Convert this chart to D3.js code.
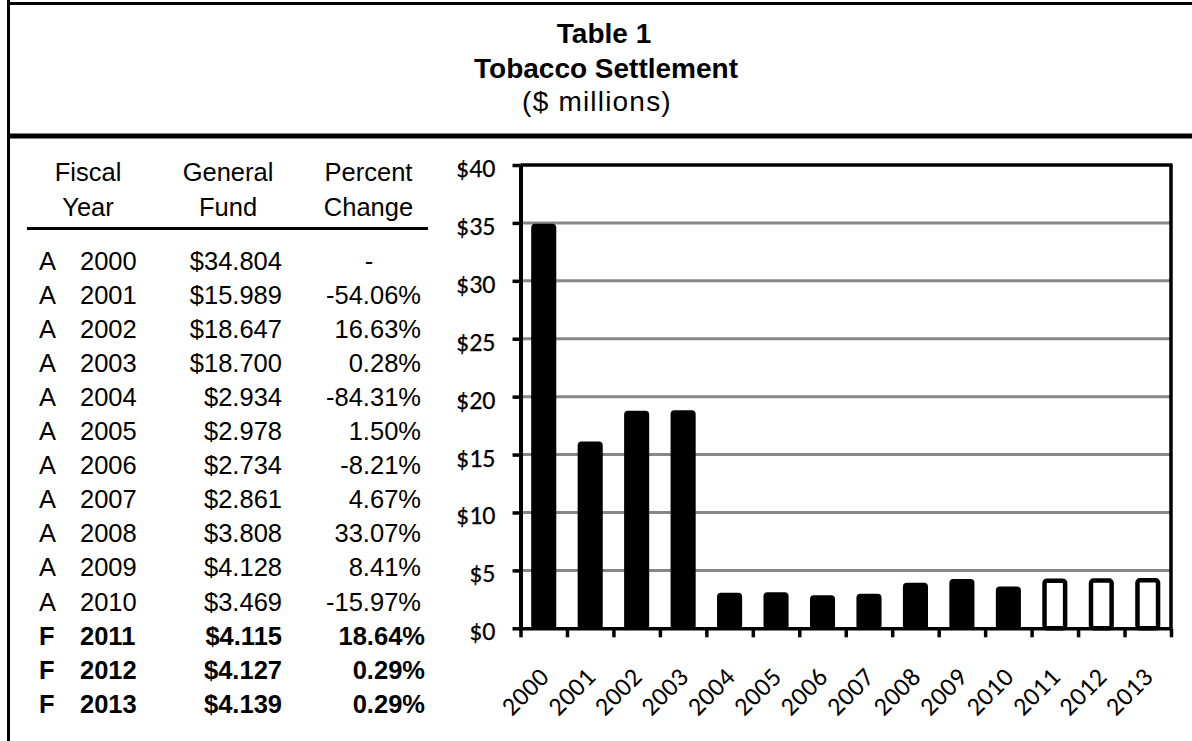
<!DOCTYPE html>
<html>
<head>
<meta charset="utf-8">
<script src="https://cdn.jsdelivr.net/npm/d3@7/dist/d3.min.js"></script>
<style>
  html, body { margin: 0; padding: 0; background: #fff; }
  svg { display: block; }
</style>
</head>
<body>
<svg id="chart" width="1192" height="741"></svg>
<script>
// ---------------- DATA ----------------
const titleLines = ["Table 1", "Tobacco Settlement", "($ millions)"];
const headerTop = ["Fiscal", "General", "Percent"];
const headerBottom = ["Year", "Fund", "Change"];
const fiscalType = ["A","A","A","A","A","A","A","A","A","A","A","F","F","F"];
const years = ["2000","2001","2002","2003","2004","2005","2006","2007","2008","2009","2010","2011","2012","2013"];
const generalFund = [34.804, 15.989, 18.647, 18.700, 2.934, 2.978, 2.734, 2.861, 3.808, 4.128, 3.469, 4.115, 4.127, 4.139];
const percentChange = ["-", "-54.06%", "16.63%", "0.28%", "-84.31%", "1.50%", "-8.21%", "4.67%", "33.07%", "8.41%", "-15.97%", "18.64%", "0.29%", "0.29%"];
const yTicks = [0, 5, 10, 15, 20, 25, 30, 35, 40];

// ---------------- SETUP ----------------
const svg = d3.select("#chart");
const W = 1192, H = 741;
const tableFont = "'Liberation Sans', Arial, sans-serif";
const axisFont = "Carlito, Calibri, Lato, 'Open Sans', sans-serif";
const axisSize = 26;

// Frame
svg.append("line").attr("x1", 8.5).attr("x2", 8.5).attr("y1", 0).attr("y2", H)
  .attr("stroke", "#000").attr("stroke-width", 3);
svg.append("line").attr("x1", 7).attr("x2", W).attr("y1", 3.5).attr("y2", 3.5)
  .attr("stroke", "#000").attr("stroke-width", 3);
svg.append("line").attr("x1", 7).attr("x2", W).attr("y1", 136).attr("y2", 136)
  .attr("stroke", "#000").attr("stroke-width", 5);

// Title
const titleCfg = [
  {x: 604, y: 43, w: "bold", size: 28, ls: 0},
  {x: 606, y: 78, w: "bold", size: 28, ls: 0},
  {x: 597, y: 111, w: "normal", size: 28, ls: 1.2}
];
svg.selectAll("text.title").data(titleLines).join("text")
  .attr("class", "title")
  .attr("x", (d, i) => titleCfg[i].x)
  .attr("y", (d, i) => titleCfg[i].y)
  .attr("text-anchor", "middle")
  .attr("font-family", tableFont)
  .attr("font-weight", (d, i) => titleCfg[i].w)
  .attr("font-size", (d, i) => titleCfg[i].size)
  .attr("letter-spacing", (d, i) => titleCfg[i].ls)
  .text(d => d);

// ---------------- TABLE ----------------
const headerX = [88, 228, 368.5];
const tFont = 25.5;
svg.selectAll("text.h1").data(headerTop).join("text")
  .attr("class", "h1")
  .attr("x", (d, i) => headerX[i]).attr("y", 181)
  .attr("text-anchor", "middle")
  .attr("font-family", tableFont).attr("font-size", tFont)
  .text(d => d);
svg.selectAll("text.h2").data(headerBottom).join("text")
  .attr("class", "h2")
  .attr("x", (d, i) => headerX[i]).attr("y", 216)
  .attr("text-anchor", "middle")
  .attr("font-family", tableFont).attr("font-size", tFont)
  .text(d => d);
svg.append("line").attr("x1", 27).attr("x2", 428).attr("y1", 228.5).attr("y2", 228.5)
  .attr("stroke", "#000").attr("stroke-width", 3);

const rowY = d3.scaleLinear().domain([0, 1]).range([270, 304.05]);
const rows = years.map((y, i) => ({
  type: fiscalType[i], year: y, fund: generalFund[i], pct: percentChange[i], i
}));
const rowG = svg.selectAll("g.row").data(rows).join("g")
  .attr("class", "row")
  .attr("transform", d => `translate(0,${rowY(d.i)})`)
  .attr("font-family", tableFont)
  .attr("font-size", tFont)
  .attr("font-weight", d => d.type === "F" ? "bold" : "normal");
rowG.append("text").attr("x", 39).text(d => d.type);
rowG.append("text").attr("x", 80).text(d => d.year);
rowG.append("text").attr("x", 282).attr("text-anchor", "end")
  .text(d => "$" + d3.format(".3f")(d.fund));
rowG.append("text")
  .attr("x", d => d.pct === "-" ? 369 : (d.type === "F" ? 425 : 421))
  .attr("text-anchor", d => d.pct === "-" ? "middle" : "end")
  .text(d => d.pct);

// ---------------- CHART ----------------
const x0 = 520.5, x1 = 1171, y0 = 628.3, yTop = 165;
const x = d3.scaleBand().domain(years).range([x0, x1]).paddingInner(0.46).paddingOuter(0.23);
const y = d3.scaleLinear().domain([0, 40]).range([y0, yTop]);
const boundary = d3.scaleLinear().domain([0, years.length]).range([x0, x1]);

// gridlines
svg.append("g").selectAll("line").data(yTicks.filter(t => t > 0 && t < 40)).join("line")
  .attr("x1", x0).attr("x2", x1)
  .attr("y1", d => y(d)).attr("y2", d => y(d))
  .attr("stroke", "#878787").attr("stroke-width", 3);

// bars
const barData = years.map((yr, i) => ({year: yr, v: generalFund[i], type: fiscalType[i]}));
svg.append("g").selectAll("rect").data(barData).join("rect")
  .attr("x", d => x(d.year) + (d.type === "F" ? 2.25 : 1.5))
  .attr("width", d => x.bandwidth() - (d.type === "F" ? 4.5 : 3))
  .attr("y", d => y(d.v))
  .attr("height", d => y(0) - y(d.v))
  .attr("rx", 2.5)
  .attr("fill", d => d.type === "F" ? "#fff" : "#000")
  .attr("stroke", "#000")
  .attr("stroke-width", d => d.type === "F" ? 4.5 : 3);

// top & right frame of plot
svg.append("line").attr("x1", x0).attr("x2", x1 + 1.5).attr("y1", yTop).attr("y2", yTop)
  .attr("stroke", "#000").attr("stroke-width", 3.5);
svg.append("line").attr("x1", x1).attr("x2", x1).attr("y1", yTop).attr("y2", y0)
  .attr("stroke", "#000").attr("stroke-width", 3.5);

// y axis
const yAxis = svg.append("g").attr("transform", `translate(${x0},0)`)
  .call(d3.axisLeft(y).tickValues(yTicks).tickSize(8).tickSizeOuter(0).tickPadding(17)
    .tickFormat(d => "$" + d));
yAxis.select(".domain").attr("stroke", "#000").attr("stroke-width", 4);
yAxis.selectAll(".tick line").attr("stroke", "#000").attr("stroke-width", 3.5);
yAxis.selectAll(".tick text")
  .attr("font-family", axisFont).attr("font-size", axisSize).attr("fill", "#000")
  .attr("stroke", "#000").attr("stroke-width", 0.25)
  .attr("dy", "0.44em");

// x axis (ticks at category boundaries)
const xAxis = svg.append("g").attr("transform", `translate(0,${y0})`)
  .call(d3.axisBottom(boundary).tickValues(d3.range(years.length + 1)).tickSize(9)
    .tickSizeOuter(0).tickFormat(""));
xAxis.select(".domain").attr("stroke", "#000").attr("stroke-width", 3.5);
xAxis.selectAll(".tick line").attr("stroke", "#000").attr("stroke-width", 3.5);

// x labels
svg.append("g").selectAll("text").data(years).join("text")
  .attr("transform", d => `translate(${x(d) + x.bandwidth() / 2 + 7},${y0 + 50}) rotate(-45)`)
  .attr("text-anchor", "end")
  .attr("font-family", axisFont).attr("font-size", axisSize).attr("fill", "#000")
  .attr("letter-spacing", 0.5)
  .text(d => d);
</script>
</body>
</html>
